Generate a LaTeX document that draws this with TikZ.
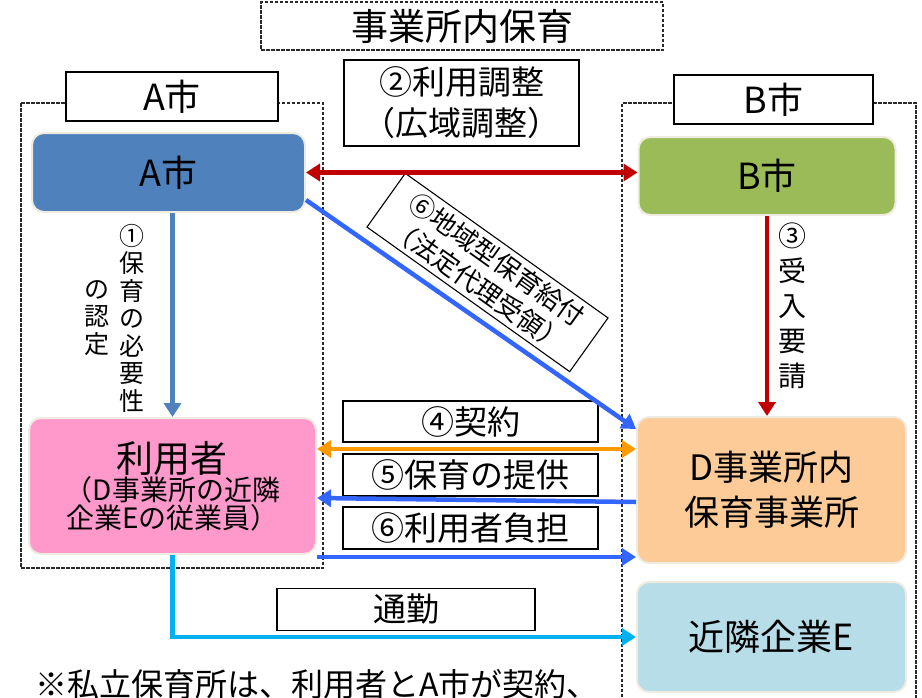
\documentclass[tikz,border=0pt]{standalone}
\usepackage{fontspec}
\setmainfont{Noto Sans CJK JP}
\usetikzlibrary{arrows.meta,calc}
\definecolor{cityA}{HTML}{4F81BD}
\definecolor{cityB}{HTML}{9BBB59}
\definecolor{userPink}{HTML}{FF99CC}
\definecolor{daycare}{HTML}{FCCB97}
\definecolor{company}{HTML}{B7DDE8}
\definecolor{edge}{HTML}{EEECE1}
\definecolor{cRed}{HTML}{C00000}
\definecolor{cBlue}{HTML}{3366FF}
\definecolor{cOrange}{HTML}{FF9900}
\definecolor{cSky}{HTML}{00B0F0}
\definecolor{dashgray}{HTML}{2A2A2A}
\tikzset{
  region/.style={draw=dashgray, dash pattern=on 3.5pt off 1.5pt, line width=1.3pt},
  lbl/.style={draw=black, fill=white, line width=1.1pt, inner sep=0pt, align=center},
  entity/.style={rounded corners=12pt, draw=edge, line width=2pt, inner sep=0pt, align=center},
  conn/.style={line width=4.5pt, -{Triangle[length=14pt,width=17pt]}},
  dconn/.style={line width=4.5pt, {Triangle[length=14pt,width=17pt]}-{Triangle[length=14pt,width=17pt]}},
  big/.style={font=\fontsize{36}{40}\selectfont},
  mid/.style={font=\fontsize{33}{38}\selectfont},
  vtext/.style={inner sep=0pt, align=center}
}
\begin{document}
\begin{tikzpicture}[x=1pt,y=-1pt]
\useasboundingbox (0,0) rectangle (922,697);

% regions
\draw[region] (21,103) rectangle (323,568);
\draw[region] (622,712) -- (622,103) -- (916,103) -- (916,712);

% title
\node[lbl, draw=dashgray, dash pattern=on 3.5pt off 1.5pt, line width=1.3pt, fill=none, minimum width=402, minimum height=48, font=\fontsize{37}{40}\selectfont] (title) at (462,26) {事業所内保育};

% region labels
\node[lbl, big, minimum width=212, minimum height=49] (labA) at (172,96.5) {A市};
\node[lbl, big, minimum width=199, minimum height=49] (labB) at (773.5,99.5) {B市};

% entities
\node[entity, fill=cityA, big, minimum width=273, minimum height=79] (A) at (168.5,172.5) {A市};
\node[entity, fill=cityB, big, minimum width=257, minimum height=78] (B) at (767,176) {B市};
\node[entity, fill=userPink, minimum width=287, minimum height=136] (U) at (172.5,486)
  {{\fontsize{37}{42}\selectfont 利用者}\\{\fontsize{28}{35}\selectfont （D事業所の近隣}\\{\fontsize{28}{35}\selectfont 企業Eの従業員）}};
\node[entity, fill=daycare, minimum width=269, minimum height=146, font=\fontsize{35}{45}\selectfont] (D) at (771.5,490) {D事業所内\\保育事業所};
\node[entity, fill=company, big, minimum width=269, minimum height=110] (E) at (771.5,637) {近隣企業E};

% labels
\node[lbl, font=\fontsize{33}{41}\selectfont, minimum width=235, minimum height=86] (L2) at (461.5,103) {②利用調整\\（広域調整）};
\node[lbl, rotate=-35.5, minimum width=249, minimum height=66, font=\fontsize{26}{32}\selectfont] (L6b) at (487.5,272.5) {⑥地域型保育給付\\（法定代理受領）};
\node[lbl, mid, minimum width=255, minimum height=41] (L4) at (470.5,421.5) {④契約};
\node[lbl, mid, minimum width=255, minimum height=42] (L5) at (470.5,475) {⑤保育の提供};
\node[lbl, mid, minimum width=255, minimum height=42] (L6) at (470.5,528) {⑥利用者負担};
\node[lbl, mid, minimum width=258, minimum height=42] (Lc) at (406,609.5) {通勤};

% vertical texts
\node[vtext, font=\fontsize{25}{27.5}\selectfont] (V1) at (132,318) {①\\保\\育\\の\\必\\要\\性};
\node[vtext, font=\fontsize{25}{27.5}\selectfont] (V1b) at (97,318) {の\\認\\定};
\node[vtext, font=\fontsize{28}{35}\selectfont] (V3) at (792,306) {③\\受\\入\\要\\請};

% bottom note
\node[anchor=base west, inner sep=0pt, font=\fontsize{32}{36}\selectfont] (note) at (35,696) {※私立保育所は、利用者とA市が契約、};

% connectors
\draw[dconn, cRed] (A.east) -- (A.east -| B.west);
\draw[conn, cRed] (B.south) -- (B.south |- D.north);
\draw[conn, cityA] (A.south -| U.north) -- (U.north);
\draw[conn, cBlue] ([yshift=-27.5pt]A.east) -- ([yshift=-13pt]D.north west);
\draw[dconn, cOrange] ([yshift=41pt]D.west) -- ([yshift=41pt]D.west -| U.east);
\draw[conn, cBlue] ([yshift=-12pt]D.west) -- ([yshift=-12pt]U.east);
\draw[conn, cBlue] ([yshift=-2pt]U.south east) -- ([yshift=-2pt]U.south east -| D.west);
\draw[conn, cSky] (U.south) |- (E.west);
\end{tikzpicture}
\end{document}
